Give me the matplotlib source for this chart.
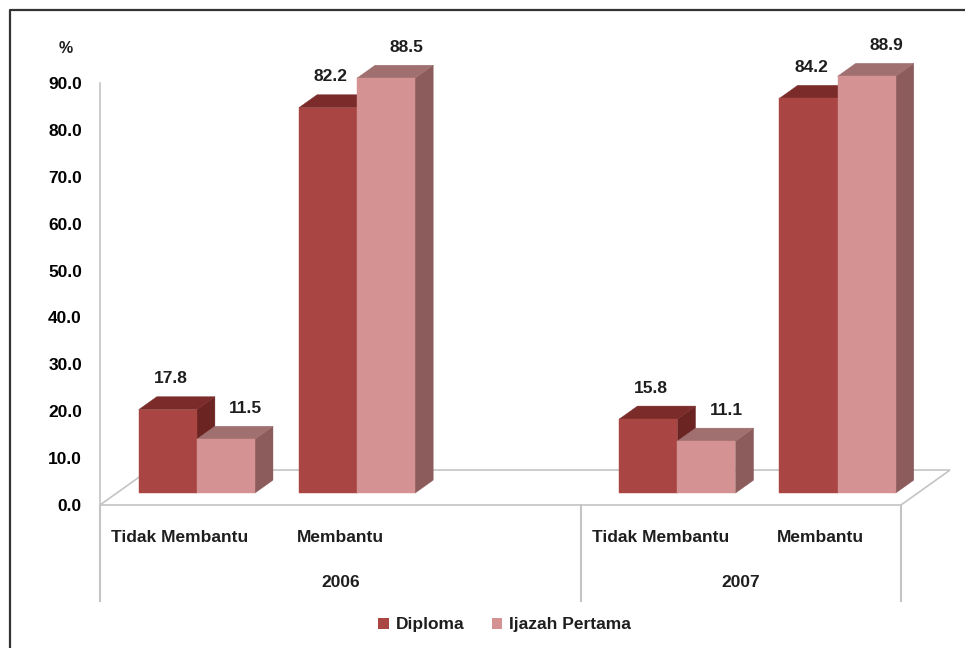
import numpy as np
import matplotlib
matplotlib.use("Agg")
import matplotlib.pyplot as plt
from matplotlib.patches import Polygon, Patch
from matplotlib.lines import Line2D

# data
years = ["2006", "2007"]
categories = ["Tidak Membantu", "Membantu", "Tidak Membantu", "Membantu"]
cat_year = [0, 0, 1, 1]
series = ["Diploma", "Ijazah Pertama"]
diploma = [17.8, 82.2, 15.8, 84.2]
ijazah = [11.5, 88.5, 11.1, 88.9]
yticks = np.arange(0, 91, 10)

# style
plt.rcParams.update({
    "font.family": ["Liberation Sans", "DejaVu Sans"],
    "font.weight": "bold",
    "font.size": 12.5,
    "text.color": "#1e1e1e",
})
front_col = ["#A94542", "#D49392"]
top_col = ["#7B2C2A", "#A06F6F"]
side_col = ["#6C2422", "#8B5C5B"]
grey = "#C4C4C4"
label_dx = [3, 20]          # pixel nudge of value labels per series

# pseudo-3D geometry (depth projection in data units)
KX, KY = 0.306, 7.46
D0, D1 = 0.34, 0.71
BAR_W = 0.3625
slots = [0, 1, 3, 4]


def proj(x, y, d):
    return (x + d * KX, y + d * KY)


fig = plt.figure(figsize=(9.65, 6.48), dpi=100)
ax = fig.add_axes([100 / 965, 143 / 648, 801 / 965, 422 / 648])
ax.set_xlim(-0.5, 4.5)
ax.set_ylim(0, 90)

# floor
floor = [proj(-0.5, 0, 0), proj(4.5, 0, 0), proj(4.5, 0, 1), proj(-0.5, 0, 1)]
ax.add_patch(Polygon(floor, closed=True, facecolor="white", edgecolor=grey,
                     lw=1.2, clip_on=False, zorder=1))


def draw_bar(x0, h, s):
    x1 = x0 + BAR_W
    front = [proj(x0, 0, D0), proj(x1, 0, D0), proj(x1, h, D0), proj(x0, h, D0)]
    top = [proj(x0, h, D0), proj(x1, h, D0), proj(x1, h, D1), proj(x0, h, D1)]
    side = [proj(x1, 0, D0), proj(x1, 0, D1), proj(x1, h, D1), proj(x1, h, D0)]
    for poly, c in ((side, side_col[s]), (top, top_col[s]), (front, front_col[s])):
        ax.add_patch(Polygon(poly, closed=True, facecolor=c, edgecolor=c,
                             lw=0.3, clip_on=False, zorder=3))


for i, pos in enumerate(slots):
    for s, vals in enumerate([diploma, ijazah]):
        x0 = pos - BAR_W + s * BAR_W
        draw_bar(x0, vals[i], s)
        lx = x0 + BAR_W / 2 + D0 * KX
        ly = vals[i] + D1 * KY
        ax.annotate(f"{vals[i]:.1f}", (lx, ly),
                    xytext=(label_dx[s] * 0.72, 13), textcoords="offset points",
                    ha="center", va="center", fontsize=12.5, annotation_clip=False)

# y axis
ax.set_yticks(yticks)
ax.set_yticklabels([f"{v:.1f}" for v in yticks])
ax.tick_params(axis="y", length=0, pad=13, labelsize=12.5)
ax.set_xticks([])
for sp in ["top", "right", "bottom"]:
    ax.spines[sp].set_visible(False)
ax.spines["left"].set_color(grey)
ax.spines["left"].set_linewidth(1.2)
ax.text(-0.712, 97.4, "%", ha="center", va="center", fontsize=11.5)

# category axis below floor
for xs in [-0.5, 2.5, 4.5]:
    ax.plot([xs, xs], [0, -20.5], color=grey, lw=1.5, clip_on=False, zorder=1)
for i, pos in enumerate(slots):
    ax.text(pos, -6.9, categories[i], ha="center", va="center", fontsize=12.5)
ax.text(1.0, -16.6, years[0], ha="center", va="center", fontsize=12.5)
ax.text(3.5, -16.6, years[1], ha="center", va="center", fontsize=12.5)

# legend
handles = [Patch(facecolor=front_col[s], edgecolor="none", label=series[s]) for s in range(2)]
fig.legend(handles=handles, loc="center", bbox_to_anchor=(0.523, 0.036), ncol=2,
           frameon=False, handlelength=0.6, handleheight=0.6, handletextpad=0.4,
           columnspacing=1.6, fontsize=12.5)

# outer frame (left and top edges visible)
fig.add_artist(Line2D([10 / 965, 10 / 965, 1.0], [0.0, 1 - 10 / 648, 1 - 10 / 648],
                      color="#333333", lw=1.6, transform=fig.transFigure))

fig.savefig("out.png", dpi=100)
